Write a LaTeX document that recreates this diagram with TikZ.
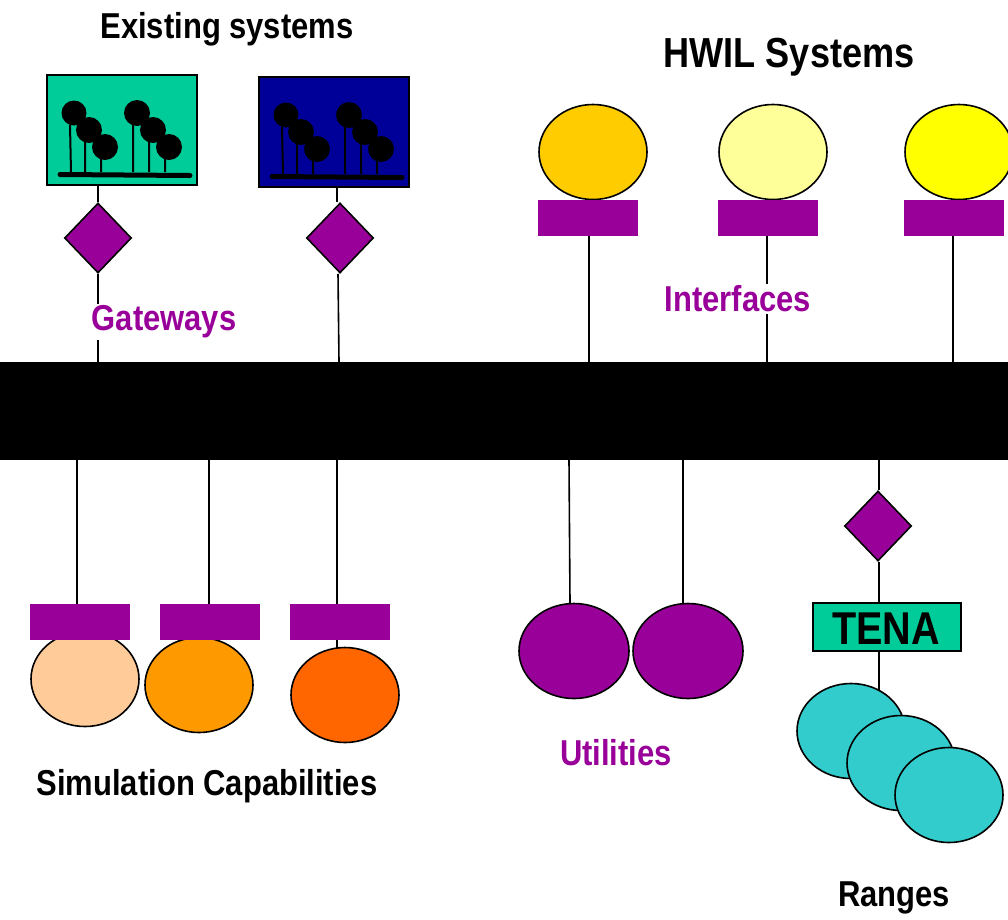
\documentclass[tikz,border=0pt]{standalone}
\usepackage{fontspec}
\usetikzlibrary{shapes.geometric}
\setmainfont{Liberation Sans}[FakeStretch=0.86]
\definecolor{pur}{HTML}{990099}
\definecolor{grn}{HTML}{00CC99}
\definecolor{blu}{HTML}{000099}
\definecolor{tea}{HTML}{33CCCC}
\tikzset{
  ln/.style={line width=1.6pt,draw=black},
  ell/.style={ellipse,draw=black,line width=1.6pt,minimum width=108pt,minimum height=95pt,inner sep=0pt},
  dia/.style={diamond,draw=black,fill=pur,line width=1.6pt,minimum width=67pt,minimum height=70pt,inner sep=0pt},
  bluebox/.style={rectangle,draw=none,fill=pur,minimum width=100pt,minimum height=36pt,inner sep=0pt},
  sbox/.style={rectangle,draw=black,line width=1.6pt,minimum width=150pt,minimum height=110pt,inner sep=0pt},
  ball/.style={circle,fill=black,minimum size=26pt,inner sep=0pt},
  blk/.style={font=\fontsize{36}{40}\selectfont\bfseries,text=black,inner sep=1pt},
  prp/.style={font=\fontsize{36}{40}\selectfont\bfseries,text=pur,fill=white,inner sep=2pt},
}
\begin{document}
\begin{tikzpicture}[x=1pt,y=-1pt]
\useasboundingbox (0,0) rectangle (1008,919);
\clip (0,0) rectangle (1008,919);
% bar
\node[rectangle,fill=black,minimum width=1008pt,minimum height=98pt,inner sep=0pt] (bar) at (504,411) {};
% existing systems
\node[sbox,fill=grn] (s1) at (122,130) {};
\node[sbox,fill=blu] (s2) at (334,132) {};
\foreach \n/\dx/\dy in {a/0/0,b/212/2}{
  \begin{scope}[shift={(\dx,\dy)}]
    \draw[line width=2pt] (70,125)--(71,172) (85,140)--(85,172) (101,155)--(101,172)
      (133,125)--(133,172) (149,140)--(149,172) (165,155)--(165,172);
    \draw[line width=5pt,line cap=round] (60,174.5)--(190,175.5);
    \node[ball,minimum size=25pt] (\n1) at (74,113) {};
    \node[ball] (\n2) at (89,130) {};
    \node[ball] (\n3) at (105,147) {};
    \node[ball] (\n4) at (137,113) {};
    \node[ball] (\n5) at (153,130) {};
    \node[ball] (\n6) at (169,147) {};
  \end{scope}
}
\node[dia] (d1) at (98,238) {};
\node[dia] (d2) at (340,238) {};
\draw[ln] (s1.south -| d1.north) -- (d1.north);
\draw[ln] (s2.south -| d2.north) ++(-3,0) -- ([xshift=-3pt]d2.north);
\draw[ln] (d1.south) -- (d1.south |- bar.north);
\draw[ln] ([xshift=-2pt]d2.south) -- ([xshift=-1pt]d2.south |- bar.north);
% HWIL
\coordinate (i1) at (589,236);
\coordinate (i2) at (767,236);
\coordinate (i3) at (953,236);
\draw[ln] (i1) -- (i1 |- bar.north);
\draw[ln] (i2) -- (i2 |- bar.north);
\draw[ln] (i3) -- (i3 |- bar.north);
\node[ell,fill={rgb,255:red,255;green,204;blue,0}] (h1) at (593,152) {};
\node[ell,fill={rgb,255:red,255;green,255;blue,153}] (h2) at (773,152) {};
\node[ell,fill={rgb,255:red,255;green,255;blue,0}] (h3) at (959,152) {};
\node[bluebox] (r1) at (588,218) {};
\node[bluebox] (r2) at (768,218) {};
\node[bluebox] (r3) at (954,218) {};
% simulation
\coordinate (b1) at (77,604);
\coordinate (b2) at (209,604);
\coordinate (b3) at (337,604);
\draw[ln] (b1 |- bar.south) -- (b1);
\draw[ln] (b2 |- bar.south) -- (b2);
\draw[ln] (b3 |- bar.south) -- (b3 |- 0,650);
\node[ell,fill={rgb,255:red,255;green,204;blue,153}] (e1) at (85,679) {};
\node[ell,fill={rgb,255:red,255;green,153;blue,0}] (e2) at (199,685) {};
\node[ell,fill={rgb,255:red,255;green,102;blue,0}] (e3) at (345,695) {};
\node[bluebox] (q1) at (80,622) {};
\node[bluebox] (q2) at (210,622) {};
\node[bluebox] (q3) at (340,622) {};
% utilities
\coordinate (u1) at (570,603);
\coordinate (u2) at (683,603);
\draw[ln] (569,0 |- bar.south) -- (u1);
\draw[ln] (u2 |- bar.south) -- (u2);
\node[ell,fill=pur,minimum width=110pt] (v1) at (574,651) {};
\node[ell,fill=pur,minimum width=110pt] (v2) at (688,651) {};
% TENA
\node[dia] (d3) at (878,526) {};
\node[rectangle,draw=black,fill=grn,line width=1.6pt,minimum width=148pt,minimum height=48pt,inner sep=0pt] (t) at (887,627) {};
\node[font=\fontsize{46}{50}\selectfont\bfseries,inner sep=0pt] (tt) at (886,629) {TENA};
\draw[ln] (d3.north -| 879,0) -- (879,0 |- bar.south);
\draw[ln] (d3.south -| 879,0) -- (879,0 |- t.north);
\draw[ln] (879,0 |- t.south) -- (879,692);
\node[ell,fill=tea] (g1) at (851,731) {};
\node[ell,fill=tea] (g2) at (901,763) {};
\node[ell,fill=tea] (g3) at (949,795) {};
% labels
\node[blk] (l1) at (227,29) {Existing systems};
\node[blk,font=\fontsize{42}{46}\selectfont\bfseries] (l2) at (789,57) {HWIL Systems};
\node[prp] (l3) at (164,322) {Gateways};
\node[prp] (l4) at (738,299) {Interfaces};
\node[blk] (l5) at (207,786) {Simulation Capabilities};
\node[prp,fill=none] (l6) at (616,753) {Utilities};
\node[blk] (l7) at (894,898) {Ranges};
\end{tikzpicture}
\end{document}
